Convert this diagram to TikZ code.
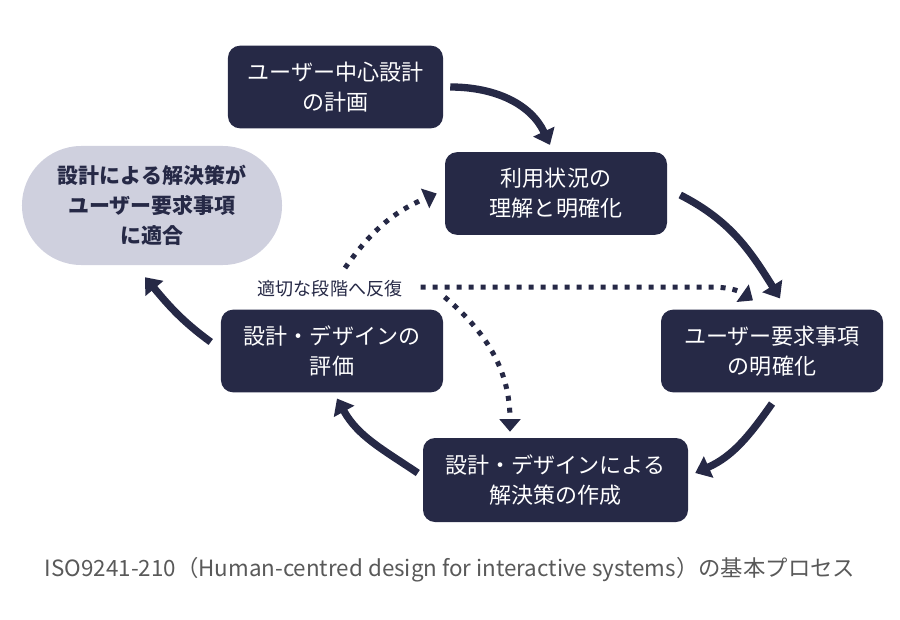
\documentclass[tikz,border=0pt]{standalone}
\usepackage{fontspec}
\setmainfont{Noto Sans CJK JP}
\usepackage{xcolor}
\usepackage{tikz}
\usetikzlibrary{calc,arrows.meta}

\definecolor{navy}{HTML}{262946}
\definecolor{paleblue}{HTML}{CFD0DE}
\definecolor{capgray}{HTML}{595959}

\begin{document}
\begin{tikzpicture}[x=0.03cm, y=0.03cm,
    procbox/.style={fill=navy, text=white, rounded corners=0.36cm, minimum height=2.48cm,
      align=center, font=\fontsize{18.8}{25.6}\selectfont},
    flow/.style={line width=0.22cm, navy, -{Triangle[length=0.44cm,width=0.68cm]}},
    loopback/.style={line width=0.15cm, navy, dash pattern=on 0.15cm off 0.21cm,
      -{Triangle[length=0.38cm,width=0.62cm]}}]
    \useasboundingbox (0,0) rectangle (900,-620);

    % process steps
    \node[procbox, minimum width=6.45cm] (plan) at (335.5,-87) {ユーザー中心設計\\の計画};
    \node[procbox, minimum width=6.66cm] (context) at (556,-193.5) {利用状況の\\理解と明確化};
    \node[procbox, minimum width=6.66cm] (req) at (772,-351) {ユーザー要求事項\\の明確化};
    \node[procbox, minimum width=7.95cm, minimum height=2.52cm] (design) at (555.5,-480) {設計・デザインによる\\解決策の作成};
    \node[procbox, minimum width=6.66cm] (eval) at (332,-351) {設計・デザインの\\評価};
    \node[fill=paleblue, text=navy, rounded corners=1.78cm, minimum width=7.8cm, minimum height=3.57cm,
      align=center, font=\bfseries\fontsize{17.9}{25.6}\selectfont] (fit) at (152,-205.5)
      {設計による解決策が\\ユーザー要求事項\\に適合};

    \node[text=navy, inner sep=1pt, font=\fontsize{15.4}{18}\selectfont] (iterate) at (330,-289) {適切な段階へ反復};
    \node[text=capgray, font=\fontsize{19.1}{22}\selectfont] (caption) at (450,-570)
      {ISO9241-210（Human-centred design for interactive systems）の基本プロセス};

    % main cycle
    \draw[flow] ($(plan.east)+(7,0)$) to[out=0,in=115] ($(context.north)+(-6,7)$);
    \draw[flow] ($(context.east)+(13,-1.5)$) to[out=-27,in=122] ($(req.north)+(8,11)$);
    \draw[flow] ($(req.south)+(0,-11)$) to[out=-125,in=24] ($(design.east)+(7,7)$);
    \draw[flow] ($(design.west)+(-5,7)$) to[out=146,in=-61] ($(eval.south)+(5,-6)$);
    \draw[flow] ($(eval.west)+(-10,9)$) to[out=144,in=-50] ($(fit.south)+(-7,-12)$);

    % iterate back
    \draw[loopback] ($(iterate.center)+(15,21)$) to[out=55,in=-157] ($(context.west)+(-8,0)$);
    \draw[loopback] ($(iterate.east)+(17,2)$) -- ++(290,0) to[out=0,in=145] ($(req.north)+(-19,9)$);
    \draw[loopback] ($(iterate.east)+(41,-8)$) to[out=-40,in=90] ($(design.north)+(-45.5,6)$);
\end{tikzpicture}
\end{document}
